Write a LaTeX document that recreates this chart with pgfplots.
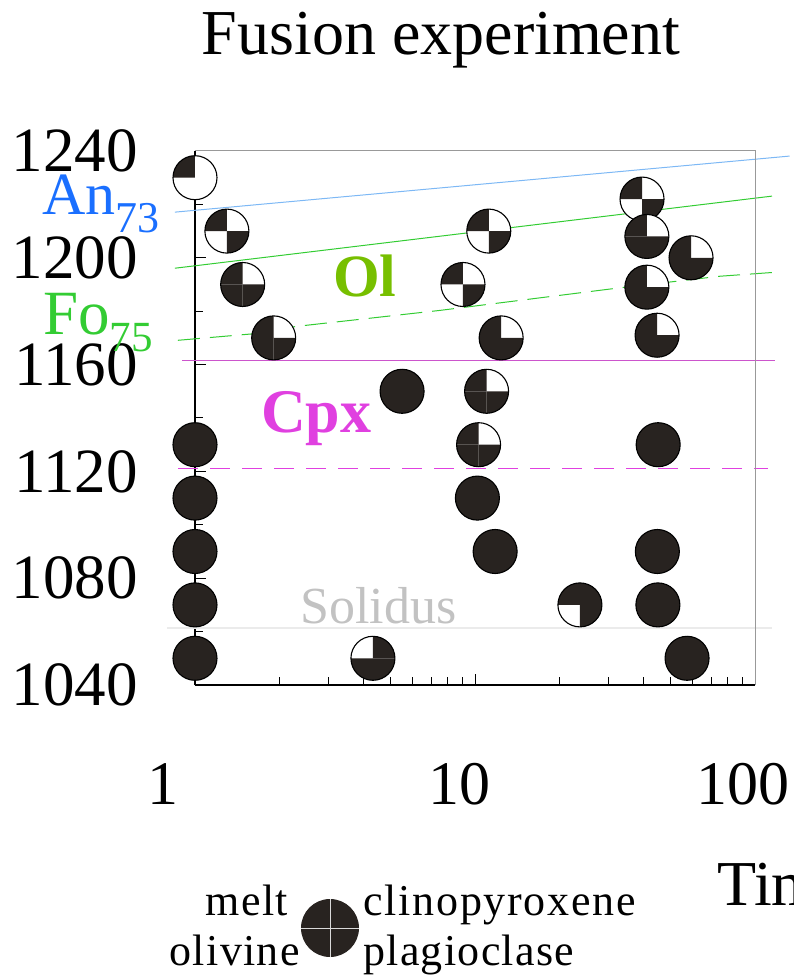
\documentclass[border=0pt]{standalone}
\usepackage{fontspec}
\setmainfont{Liberation Serif}
\usepackage{pgfplots}
\pgfplotsset{compat=1.18}
\definecolor{markdark}{HTML}{282320}
\definecolor{anblue}{HTML}{1A6FFF}
\definecolor{anline}{HTML}{7DB8F5}
\definecolor{fogreen}{HTML}{33CC33}
\definecolor{olgreen}{HTML}{77BF00}
\definecolor{cpxmag}{HTML}{E040E0}
\definecolor{cpxline}{HTML}{CC55CC}
\definecolor{solidgray}{HTML}{C2C2C2}

\newcommand\qmark[4]{%
  \pgfsetfillcolor{white}%
  \pgfpathcircle{\pgfpointorigin}{\pgfplotmarksize}\pgfusepath{fill}%
  \pgfsetfillcolor{markdark}%
  \ifnum#1=1 \pgfpathmoveto{\pgfpointorigin}\pgfpathlineto{\pgfpoint{-\pgfplotmarksize}{0pt}}\pgfpatharc{180}{90}{\pgfplotmarksize}\pgfpathclose\pgfusepath{fill}\fi
  \ifnum#2=1 \pgfpathmoveto{\pgfpointorigin}\pgfpathlineto{\pgfpoint{0pt}{\pgfplotmarksize}}\pgfpatharc{90}{0}{\pgfplotmarksize}\pgfpathclose\pgfusepath{fill}\fi
  \ifnum#3=1 \pgfpathmoveto{\pgfpointorigin}\pgfpathlineto{\pgfpoint{0pt}{-\pgfplotmarksize}}\pgfpatharc{270}{180}{\pgfplotmarksize}\pgfpathclose\pgfusepath{fill}\fi
  \ifnum#4=1 \pgfpathmoveto{\pgfpointorigin}\pgfpathlineto{\pgfpoint{\pgfplotmarksize}{0pt}}\pgfpatharc{0}{-90}{\pgfplotmarksize}\pgfpathclose\pgfusepath{fill}\fi
  \pgfsetstrokecolor{black}\pgfsetlinewidth{1.1pt}%
  \pgfpathcircle{\pgfpointorigin}{\pgfplotmarksize}\pgfusepath{stroke}%
}
\pgfdeclareplotmark{qfull}{%
  \pgfsetfillcolor{markdark}\pgfsetstrokecolor{black}\pgfsetlinewidth{1.1pt}%
  \pgfpathcircle{\pgfpointorigin}{\pgfplotmarksize}\pgfusepath{fill,stroke}}
\pgfdeclareplotmark{qmelt}{\qmark1000}
\pgfdeclareplotmark{qchk}{\qmark1001}
\pgfdeclareplotmark{qnocpx}{\qmark1011}
\pgfdeclareplotmark{qnomelt}{\qmark0111}
\pgfdeclareplotmark{qnool}{\qmark1101}

\begin{document}
\begin{tikzpicture}
\begin{axis}[
  name=ax,
  xmode=log, scale only axis, width=560pt, height=534pt,
  xmin=1, xmax=100, ymin=1040, ymax=1240,
  axis lines=left, axis line style={-, black, line width=1.2pt},
  clip=false,
  xtick={1,10,100}, xticklabels={},
  minor xtick={2,3,4,5,6,7,8,9,20,30,40,50,60,70,80,90},
  ytick={1040,1080,1120,1160,1200,1240},
  yticklabels={1040,1080,1120,1160,1200,1240},
  minor ytick={1060,1100,1140,1180,1220},
  /pgf/number format/assume math mode=true,
  yticklabel style={font=\fontsize{63}{68}\selectfont, inner sep=0pt, xshift=-57pt},
  tick align=inside, major tick length=11pt, minor tick length=8pt,
  tick style={black, line width=1pt},
]
% reference lines
\addplot[anline, line width=1pt] coordinates {(0.848,1217.1) (133,1238.1)};
\addplot[fogreen, line width=1pt] coordinates {(0.848,1196.1) (115,1223.1)};
\addplot[fogreen, line width=1pt, dash pattern=on 22pt off 10pt] coordinates {(0.869,1169.1) (1.6,1171.5) (2.3,1174.3) (7.5,1180.3) (32,1188.6) (75,1193.1) (119,1194.6)};
\addplot[cpxline, line width=0.9pt] coordinates {(0.9,1161.6) (118,1161.6)};
\addplot[cpxmag, line width=0.9pt, dash pattern=on 20pt off 12pt] coordinates {(0.87,1121) (111,1121)};
\addplot[black!8, line width=1.5pt] coordinates {(0.794,1061.4) (115,1061.4)};
% experiments
\addplot[only marks, mark=qfull, mark size=22pt] coordinates {
 (1,1130) (1,1110) (1,1090) (1,1070) (1,1050) (5.49,1150) (10.2,1110) (11.8,1090)
 (45.1,1130) (44.8,1090) (45,1070) (57.2,1050)};
\addplot[only marks, mark=qmelt, mark size=22pt] coordinates {(1,1230)};
\addplot[only marks, mark=qchk, mark size=22pt] coordinates {(1.30,1210) (11.2,1210) (9.06,1190) (39.5,1222)};
\addplot[only marks, mark=qnocpx, mark size=22pt] coordinates {
 (1.48,1190) (1.91,1170) (12.4,1170) (11.0,1150) (10.3,1130) (41.1,1208) (59.1,1200) (41.1,1189) (44.7,1171)};
\addplot[only marks, mark=qnomelt, mark size=22pt] coordinates {(4.32,1050)};
\addplot[only marks, mark=qnool, mark size=22pt] coordinates {(23.7,1070)};
\draw[black!40, line width=1pt] (rel axis cs:0,1) -- (rel axis cs:1,1) -- (rel axis cs:1,0);
\end{axis}
\begin{scope}[shift={(ax.south west)}]
\node[anchor=base, inner sep=0pt, font=\fontsize{64}{70}\selectfont] at (246pt,630pt) {Fusion experiment};
\node[anchor=base, inner sep=0pt, font=\fontsize{62}{70}\selectfont] at (-32pt,-119pt) {1};
\node[anchor=base, inner sep=0pt, font=\fontsize{62}{70}\selectfont] at (264pt,-119pt) {10};
\node[anchor=base, inner sep=0pt, font=\fontsize{62}{70}\selectfont] at (548pt,-119pt) {100};
\node[anchor=base west, inner sep=0pt, font=\fontsize{64}{70}\selectfont] at (522pt,-220pt) {Time (h)};
\node[anchor=base west, inner sep=0pt, text=anblue, font=\fontsize{60}{66}\selectfont] at (-153pt,470pt) {An\raisebox{-18pt}{\fontsize{44}{48}\selectfont 73}};
\node[anchor=base west, inner sep=0pt, text=fogreen, font=\fontsize{63}{66}\selectfont] at (-152pt,350pt) {Fo\raisebox{-17pt}{\fontsize{43}{48}\selectfont 75}};
\node[anchor=base west, inner sep=0pt, text=olgreen, font=\fontsize{60}{66}\selectfont\bfseries] at (138pt,388pt) {Ol};
\node[anchor=base west, inner sep=0pt, text=cpxmag, font=\fontsize{62}{66}\selectfont\bfseries] at (66pt,252pt) {Cpx};
\node[anchor=base west, inner sep=0pt, text=solidgray, font=\fontsize{52}{56}\selectfont] at (105pt,62pt) {Solidus};
% legend
\fill[markdark] (135pt,-243pt) circle (29pt);
\draw[black!15, line width=0.8pt] (106pt,-243pt) -- (164pt,-243pt) (135pt,-272pt) -- (135pt,-214pt);
\node[anchor=base east, inner sep=0pt, font=\fontsize{44}{46}\selectfont\addfontfeatures{LetterSpace=3}] at (93pt,-230pt) {melt};
\node[anchor=base east, inner sep=0pt, font=\fontsize{44}{46}\selectfont\addfontfeatures{LetterSpace=3}] at (105pt,-280pt) {olivine};
\node[anchor=base west, inner sep=0pt, font=\fontsize{44}{46}\selectfont\addfontfeatures{LetterSpace=4}] at (168pt,-230pt) {clinopyroxene};
\node[anchor=base west, inner sep=0pt, font=\fontsize{44}{46}\selectfont\addfontfeatures{LetterSpace=3}] at (168pt,-280pt) {plagioclase};
\pgfresetboundingbox
\useasboundingbox (-195pt,-293pt) rectangle (599pt,685pt);
\end{scope}
\end{tikzpicture}
\end{document}
